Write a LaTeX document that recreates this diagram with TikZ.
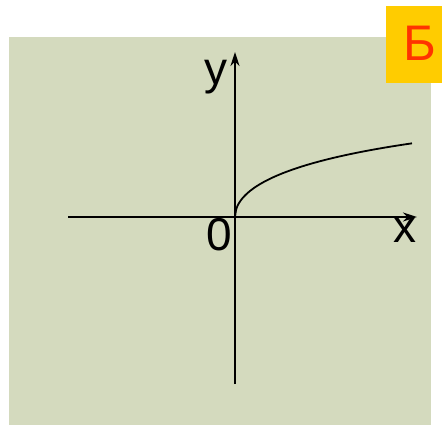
\documentclass[tikz,border=0pt]{standalone}
\usepackage{fontspec}
\setmainfont{Liberation Sans}
\usetikzlibrary{arrows.meta}
\definecolor{panel}{HTML}{D4DABE}
\definecolor{badge}{HTML}{FFCC00}
\definecolor{badgetext}{HTML}{FF3300}
\tikzset{
  axis/.style={line width=2.2pt, -{Stealth[length=14pt,width=9pt]}},
  lbl/.style={inner sep=0pt, anchor=base, font=\fontsize{46}{46}\selectfont},
}
\begin{document}
\begin{tikzpicture}[x=1pt,y=-1pt]
\useasboundingbox (0,0) rectangle (442,425);
\fill[white] (0,0) rectangle (442,425);
\fill[panel] (9,37) rectangle (431,425);
\fill[badge] (386,6) rectangle (442,83);
\node[inner sep=0pt, anchor=base, text=badgetext, font=\fontsize{50}{50}\selectfont] (b) at (420,61) {Б};
\coordinate (xl) at (68,217);
\coordinate (xr) at (417,217);
\coordinate (yb) at (235,384);
\coordinate (yt) at (235,52);
\coordinate (o) at (235,217);
\draw[axis] (xl) -- (xr);
\draw[axis] (yb) -- (yt);
\draw[line width=1.8pt] plot[domain=0:177, samples=150, smooth] ({235+\x},{217-7.2*sqrt(\x)+0.125*\x});
\node[lbl] (ylab) at (216,85) {y};
\node[lbl] (xlab) at (405,242) {x};
\node[lbl] (zero) at (219,250) {0};
\end{tikzpicture}
\end{document}
